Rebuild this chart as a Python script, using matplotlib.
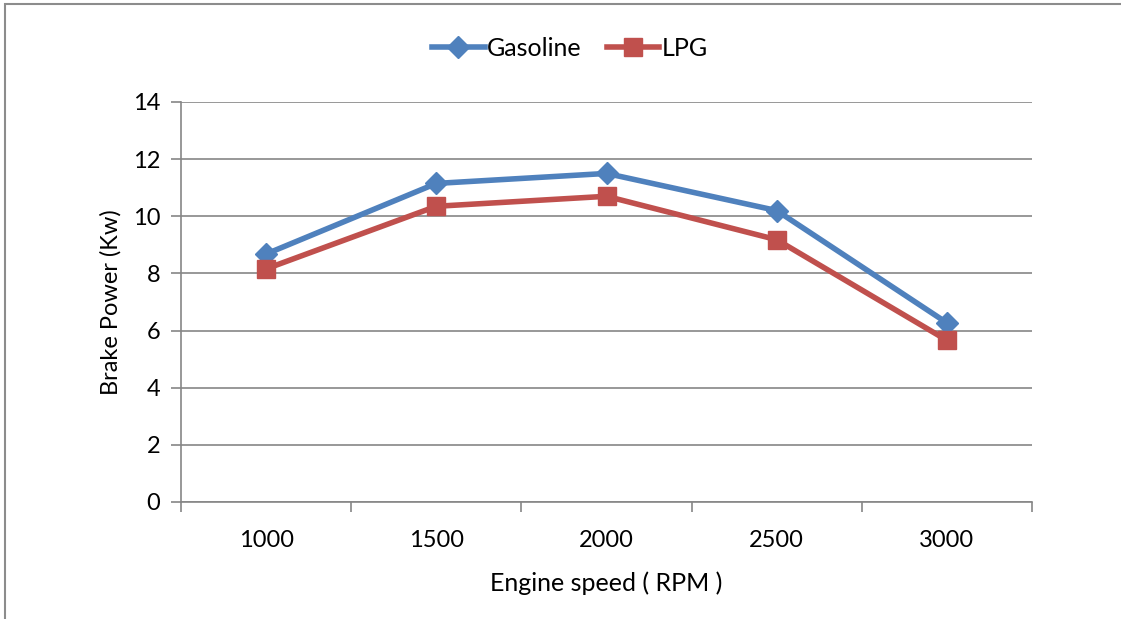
import matplotlib.pyplot as plt
from matplotlib.patches import Rectangle

plt.rcParams['font.family'] = ['Lato', 'DejaVu Sans']

speeds = ['1000', '1500', '2000', '2500', '3000']
gasoline = [8.68, 11.15, 11.5, 10.2, 6.27]
lpg = [8.16, 10.35, 10.7, 9.18, 5.66]
yticks = [0, 2, 4, 6, 8, 10, 12, 14]

fig = plt.figure(figsize=(11.21, 6.19), dpi=100)
ax = fig.add_axes([181 / 1121, 117 / 619, 851 / 1121, 400 / 619])

# outer chart frame (extends past right/bottom edge)
fig.patches.append(Rectangle((5 / 1121, -0.05), 1.2, 1 - 4 / 619 + 0.05,
                             transform=fig.transFigure, fill=False,
                             edgecolor='#8c8c8c', linewidth=1.5))

x = list(range(len(speeds)))
ax.plot(x, gasoline, color='#4F81BD', linewidth=4, marker='D',
        markersize=11, label='Gasoline')
ax.plot(x, lpg, color='#C0504D', linewidth=4, marker='s',
        markersize=13, label='LPG')

ax.set_xlim(-0.5, len(speeds) - 0.5)
ax.set_ylim(0, 14)
ax.set_yticks(yticks)
ax.set_xticks(x)
ax.set_xticklabels(speeds)
ax.set_xticks([i - 0.5 for i in range(len(speeds) + 1)], minor=True)
ax.tick_params(axis='x', which='major', length=0, pad=20, labelsize=17)
ax.tick_params(axis='x', which='minor', length=7, color='#868686', width=1.2, direction='out')
ax.tick_params(axis='y', length=7, color='#868686', width=1.2, labelsize=17, pad=8)
ax.grid(axis='y', color='#868686', linewidth=1.2)
ax.set_axisbelow(True)
for s in ['top', 'right']:
    ax.spines[s].set_visible(False)
for s in ['left', 'bottom']:
    ax.spines[s].set_color('#868686')
    ax.spines[s].set_linewidth(1.2)

ax.set_xlabel('Engine speed ( RPM )', fontsize=18, labelpad=15)
ax.set_ylabel('Brake Power (Kw)', fontsize=17, labelpad=8)

ax.legend(loc='lower center', bbox_to_anchor=(0.457, 1.05), ncol=2, frameon=False,
          fontsize=18, handlelength=2.1, columnspacing=1.0, handletextpad=0.1)

fig.savefig('out.png', dpi=100)
